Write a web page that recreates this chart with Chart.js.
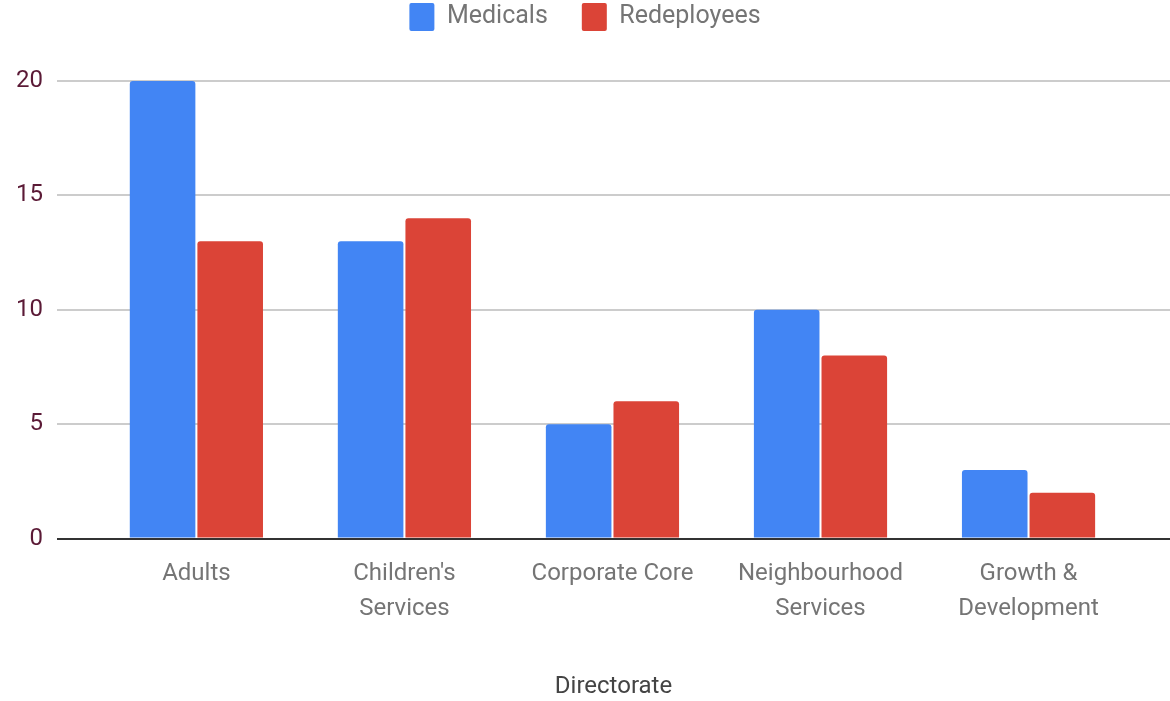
<!DOCTYPE html>
<html>
<head>
<meta charset="utf-8">
<script src="https://cdn.jsdelivr.net/npm/chart.js@4/dist/chart.umd.min.js"></script>
<style>
  html, body { margin: 0; padding: 0; background: #fff; }
  #wrap { width: 1170px; height: 701px; position: relative; }
</style>
</head>
<body>
<div id="wrap"><canvas id="barChart"></canvas></div>
<script>
// chart data
const categories = [["Adults"], ["Children's", "Services"], ["Corporate Core"], ["Neighbourhood", "Services"], ["Growth &", "Development"]];
const medicals = [20, 13, 5, 10, 3];
const redeployees = [13, 14, 6, 8, 2];
const yTicks = [0, 5, 10, 15, 20];

const ctx = document.getElementById('barChart').getContext('2d');

function toPoints(values) {
  return values.map((v, i) => ({ x: i, y: v }));
}

// legend gets a fixed height so the plot starts lower
const legendHeight = {
  id: 'legendHeight',
  beforeInit(chart) {
    const fit = chart.legend.fit;
    chart.legend.fit = function () {
      fit.call(this);
      this.height = 112;
    };
  },
};

new Chart(ctx, {
  type: 'bar',
  data: {
    datasets: [
      {
        label: 'Medicals',
        data: toPoints(medicals),
        backgroundColor: '#4285f4',
        borderRadius: 3,
        borderSkipped: 'bottom',
        categoryPercentage: 0.65,
        barPercentage: 0.97,
      },
      {
        label: 'Redeployees',
        data: toPoints(redeployees),
        backgroundColor: '#db4437',
        borderRadius: 3,
        borderSkipped: 'bottom',
        categoryPercentage: 0.65,
        barPercentage: 0.97,
      },
    ],
  },
  plugins: [legendHeight],
  options: {
    responsive: true,
    maintainAspectRatio: false,
    animation: false,
    layout: { padding: { top: -31, right: 0, bottom: 0, left: 0 } },
    plugins: {
      legend: {
        display: true,
        position: 'top',
        labels: {
          font: { family: 'Roboto', size: 25 },
          color: '#757575',
          boxWidth: 25,
          boxHeight: 28,
          padding: 34,
          useBorderRadius: true,
          borderRadius: 2,
        },
      },
      tooltip: { enabled: false },
    },
    scales: {
      x: {
        type: 'linear',
        offset: false,
        min: -0.67,
        max: 4.68,
        grid: { display: false },
        border: { display: false },
        afterBuildTicks: (scale) => {
          scale.ticks = categories.map((c, i) => ({ value: i }));
        },
        ticks: {
          font: { family: 'Roboto', size: 24, lineHeight: 1.45 },
          color: '#757575',
          padding: 10,
          maxRotation: 0,
          autoSkip: false,
          callback: (value) => categories[value],
        },
        title: {
          display: true,
          text: 'Directorate',
          font: { family: 'Roboto', size: 24 },
          color: '#444444',
          padding: { top: 36, bottom: 0 },
        },
      },
      y: {
        min: 0,
        max: 20,
        afterBuildTicks: (scale) => {
          scale.ticks = yTicks.map((v) => ({ value: v }));
        },
        afterFit: (scale) => {
          scale.width = 57;
        },
        border: { display: false },
        grid: {
          drawTicks: false,
          color: (c) => (c.tick && c.tick.value === 0 ? '#333333' : '#cccccc'),
          lineWidth: 2,
        },
        ticks: {
          font: { family: 'Roboto', size: 24 },
          color: '#5b1a36',
          padding: 14,
        },
      },
    },
  },
});
</script>
</body>
</html>
